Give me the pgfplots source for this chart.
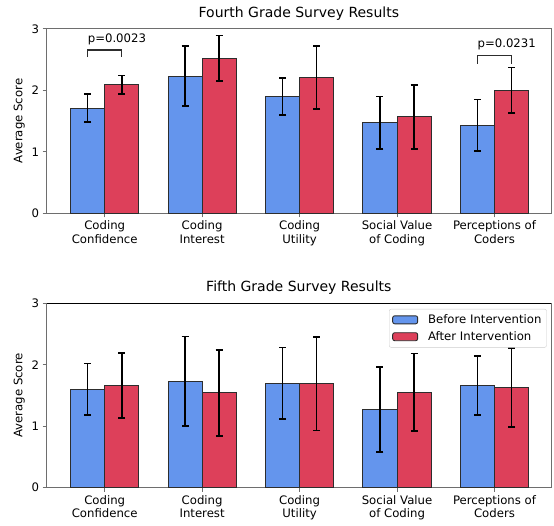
\documentclass[border=0pt]{standalone}
\usepackage{pgfplots}
\pgfplotsset{compat=1.18}
\usepackage{fontspec}
\setmainfont{DejaVu Sans}
\definecolor{cblue}{RGB}{100,149,237}
\definecolor{cred}{RGB}{221,64,90}
\definecolor{spine}{RGB}{110,110,110}
\definecolor{edge}{RGB}{45,45,45}
\definecolor{legbox}{RGB}{204,204,204}
\pgfplotsset{
  mybar/.style={
    ybar, bar width=0.35, bar shift=0pt, draw=edge, line width=1pt,
    error bars/y dir=both, error bars/y explicit,
    error bars/error bar style={black, line width=1.7pt},
    error bars/error mark options={rotate=90, mark size=3.5pt, line width=1.7pt, black},
  },
  myaxis/.style={
    scale only axis, width=504.3pt, height=184.5pt,
    xmin=-0.595, xmax=4.58, ymin=0, ymax=3,
    xtick={0,1,2,3,4}, ytick={0,1,2,3},
    xticklabels={{Coding\\Confidence},{Coding\\Interest},{Coding\\Utility},{Social Value\\of Coding},{Perceptions of\\Coders}},
    xticklabel style={align=center, font=\fontsize{11.7}{13.5}\selectfont},
    yticklabel style={font=\fontsize{11.7}{13.5}\selectfont},
    /pgf/number format/assume math mode=true,
    tick align=outside, major tick length=4pt,
    xtick pos=bottom, ytick pos=left,
    tick style={spine, line width=0.9pt},
    axis line style={spine, line width=0.9pt},
    ylabel={Average Score},
    ylabel style={font=\fontsize{11.7}{13.5}\selectfont},
    title style={font=\fontsize{14}{17}\selectfont, yshift=-1pt},
  }
}
\begin{document}
\begin{tikzpicture}
\path[use as bounding box] (0,0) rectangle (554pt,525pt);
\begin{axis}[myaxis, at={(46.7pt,311.7pt)}, anchor=south west,
  title={Fourth Grade Survey Results}]
\addplot[mybar, fill=cblue] coordinates {
 (-0.175,1.71) +- (0,0.23)
 (0.825,2.23) +- (0,0.49)
 (1.825,1.90) +- (0,0.30)
 (2.825,1.47) +- (0,0.43)
 (3.825,1.43) +- (0,0.42)
};
\addplot[mybar, fill=cred] coordinates {
 (0.175,2.09) +- (0,0.15)
 (1.175,2.52) +- (0,0.37)
 (2.175,2.21) +- (0,0.51)
 (3.175,1.57) +- (0,0.52)
 (4.175,2.00) +- (0,0.37)
};
\addplot[sharp plot, no marks, draw=edge, line width=1.2pt] coordinates {(-0.175,2.54) (-0.175,2.655) (0.175,2.655) (0.175,2.54)};
\addplot[sharp plot, no marks, draw=edge, line width=1.2pt] coordinates {(3.825,2.43) (3.825,2.565) (4.175,2.565) (4.175,2.43)};
\node[anchor=base west, inner sep=0pt, font=\fontsize{11.7}{13.5}\selectfont] at (axis cs:-0.175,2.78) {p=0.0023};
\node[anchor=base west, inner sep=0pt, font=\fontsize{11.7}{13.5}\selectfont] at (axis cs:3.825,2.69) {p=0.0231};
\end{axis}
\begin{axis}[myaxis, at={(46.7pt,37.3pt)}, anchor=south west,
  title={Fifth Grade Survey Results},
  legend style={at={(0.9915,0.969)}, anchor=north east, draw=legbox, rounded corners=2pt,
    font=\fontsize{11.7}{13.5}\selectfont, row sep=2.5pt, column sep=8pt, inner xsep=3pt, inner ysep=3.5pt},
  legend cell align=left,
  legend image code/.code={\draw[#1, line width=0.9pt] (0pt,-4pt) rectangle (25pt,4pt);}]
\addplot[mybar, fill=cblue] coordinates {
 (-0.175,1.60) +- (0,0.42)
 (0.825,1.73) +- (0,0.73)
 (1.825,1.70) +- (0,0.58)
 (2.825,1.27) +- (0,0.69)
 (3.825,1.66) +- (0,0.48)
};
\addlegendentry{Before Intervention}
\addplot[mybar, fill=cred] coordinates {
 (0.175,1.66) +- (0,0.53)
 (1.175,1.54) +- (0,0.70)
 (2.175,1.69) +- (0,0.76)
 (3.175,1.55) +- (0,0.63)
 (4.175,1.63) +- (0,0.64)
};
\addlegendentry{After Intervention}
\draw[black, line width=0.9pt] (rel axis cs:0,1) -- (rel axis cs:1,1);
\end{axis}
\end{tikzpicture}
\end{document}
